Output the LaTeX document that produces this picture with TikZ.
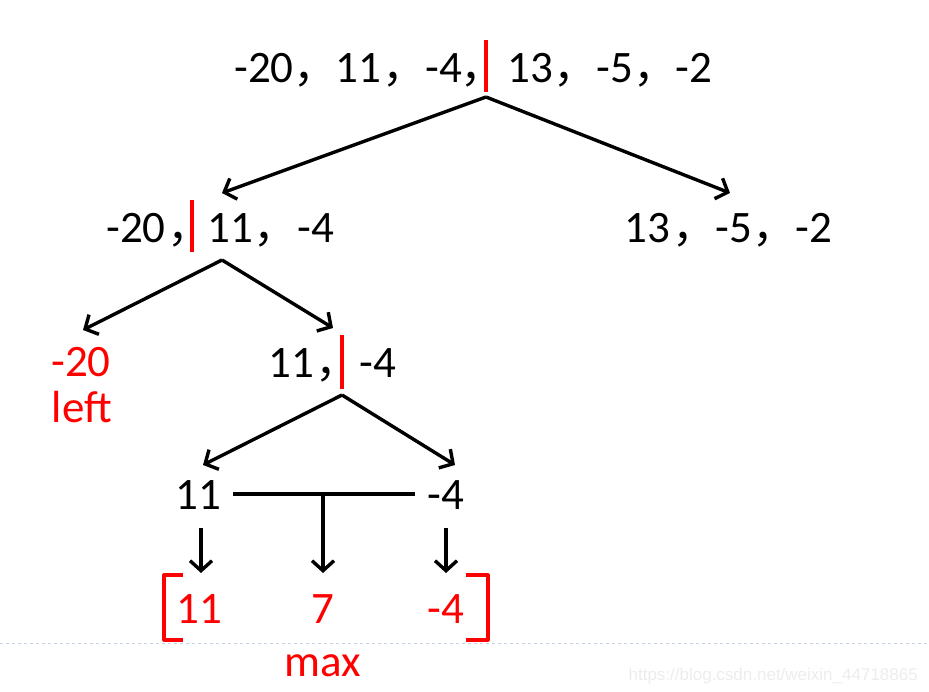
\documentclass[tikz,border=0pt]{standalone}
\usepackage{fontspec}
\setmainfont{Carlito}
\newfontfamily\cjk{Noto Sans CJK SC}
\newfontfamily\wmfont{Liberation Sans}
\usetikzlibrary{arrows.meta}
\definecolor{dashc}{HTML}{C5D3E2}
\definecolor{wmc}{HTML}{EDEDED}
\tikzset{
  txt/.style={inner sep=0pt, anchor=base, font=\fontsize{45}{52}\selectfont},
  rtxt/.style={txt, text=red},
  commanode/.style={inner sep=0pt, anchor=base west, font=\cjk\fontsize{44}{52}\selectfont},
  bar/.style={draw=red, line width=3.2pt},
  brk/.style={draw=red, line width=3.2pt, line join=round},
  arr/.style={line width=3.4pt, -{Straight Barb[length=10pt,width=22pt]}},
  plain/.style={line width=3.4pt}
}
\begin{document}
\begin{tikzpicture}[x=1pt,y=-1pt]
\useasboundingbox (0,0) rectangle (929,692);
\fill[white] (0,0) rectangle (929,692);
% level 1
\node[txt] (a1) at (264,83) {-20};
\node[commanode] (c1) at (293.5,83) {，};
\node[txt] (a2) at (358,83) {11};
\node[commanode] (c2) at (382.5,83) {，};
\node[txt] (a3) at (444,83) {-4};
\node[commanode] (c3) at (460.5,83) {，};
\node[txt] (a4) at (530,83) {13};
\node[commanode] (c4) at (553.5,83) {，};
\node[txt] (a5) at (615,83) {-5};
\node[commanode] (c5) at (633.5,83) {，};
\node[txt] (a6) at (694,83) {-2};
\draw[bar] (486,40) -- (486,92);
\coordinate (s1) at (486,97);
\coordinate (t1l) at (222,193);
\coordinate (t1r) at (730,193);
\draw[arr] (s1) -- (t1l);
\draw[arr] (s1) -- (t1r);
% level 2 left
\node[txt] (b1) at (136,243) {-20};
\node[commanode] (d1) at (167.5,243) {，};
\node[txt] (b2) at (230,243) {11};
\node[commanode] (d2) at (253.5,243) {，};
\node[txt] (b3) at (316,243) {-4};
\draw[bar] (192,200) -- (192,252);
% level 2 right
\node[txt] (r1) at (647,243) {13};
\node[commanode] (e1) at (672.5,243) {，};
\node[txt] (r2) at (734,243) {-5};
\node[commanode] (e2) at (752.5,243) {，};
\node[txt] (r3) at (814,243) {-2};
\coordinate (s2) at (222,260);
\coordinate (t2l) at (83,330);
\coordinate (t2r) at (333,328);
\draw[arr] (s2) -- (t2l);
\draw[arr] (s2) -- (t2r);
% level 3
\node[rtxt] (l1) at (81,377) {-20};
\node[rtxt] (l2) at (82,422) {left};
\node[txt] (m1) at (291,378) {11};
\node[commanode] (f1) at (315.5,378) {，};
\node[txt] (m2) at (378,378) {-4};
\draw[bar] (342,335) -- (342,389);
\coordinate (s3) at (342,395);
\coordinate (t3l) at (203,465);
\coordinate (t3r) at (455,465);
\draw[arr] (s3) -- (t3l);
\draw[arr] (s3) -- (t3r);
% level 4
\node[txt] (p1) at (198,509) {11};
\node[txt] (p2) at (446,509) {-4};
\coordinate (hl) at (233,494);
\coordinate (hr) at (415,494);
\coordinate (hm) at (323,494);
\draw[plain] (hl) -- (hr);
\coordinate (v1) at (201,528);
\coordinate (v3) at (446,528);
\coordinate (w1) at (201,573);
\coordinate (w2) at (323,573);
\coordinate (w3) at (446,573);
\draw[arr] (v1) -- (w1);
\draw[arr] (hm) -- (w2);
\draw[arr] (v3) -- (w3);
% level 5
\node[rtxt] (q1) at (199,623) {11};
\node[rtxt] (q2) at (323,623) {7};
\node[rtxt] (q3) at (446,623) {-4};
\draw[brk] (183,575) -- (164,575) -- (164,640) -- (183,640);
\draw[brk] (466,575) -- (488,575) -- (488,640) -- (466,640);
% dashed rule, max, watermark
\draw[dashc, line width=1pt, dash pattern=on 3pt off 3pt] (0,643) -- (929,643);
\node[rtxt] (mx) at (323,676) {max};
\node[inner sep=0pt, anchor=base east, text=wmc, font=\wmfont\fontsize{17}{20}\selectfont] (wm) at (918,680) {https://blog.csdn.net/weixin\_44718865};
\end{tikzpicture}
\end{document}
